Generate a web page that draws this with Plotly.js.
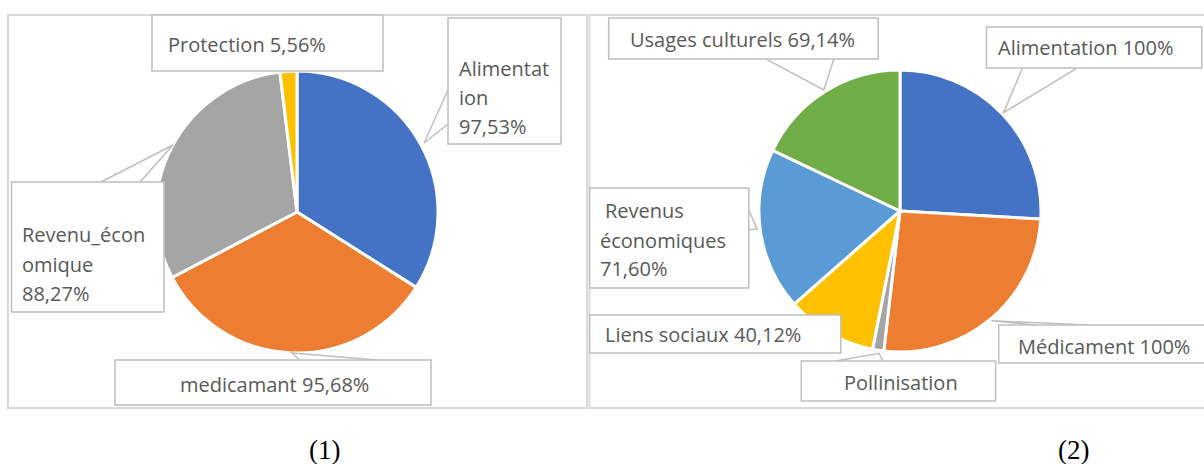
<!DOCTYPE html>
<html>
<head>
<meta charset="utf-8">
<script src="https://cdn.plot.ly/plotly-3.0.1.min.js"></script>
<style>html,body{margin:0;padding:0;background:#fff;}#chart{width:1204px;height:464px;}</style>
</head>
<body>
<div id="chart"></div>
<script>
// ---- Data ----
const chart1Labels = ['Alimentation', 'medicamant', 'Revenu_économique', 'Protection'];
const chart1Values = [97.53, 95.68, 88.27, 5.56];
const chart1Colors = ['#4472C4', '#ED7D31', '#A5A5A5', '#FFC000'];

const chart2Labels = ['Alimentation', 'Médicament', 'Pollinisation', 'Liens sociaux', 'Revenus économiques', 'Usages culturels'];
const chart2Values = [100, 100, 5, 40.12, 71.60, 69.14];
const chart2ShowValue = [true, true, false, true, true, true];
const chart2Colors = ['#4472C4', '#ED7D31', '#A5A5A5', '#FFC000', '#5B9BD5', '#70AD47'];

const captions = ['(1)', '(2)'];

// ---- helpers ----
const W = 1204, H = 464;
const X = p => p / W;
const Y = p => 1 - p / H;
const fmt = v => (Number.isInteger(v) ? String(v) : v.toFixed(2).replace('.', ',')) + '%';

// label layout: box [x0,y0,x1,y1], leader points, text line positions, how to cut the name
const layout1 = [
  {box: [448, 18, 561, 144], leader: [[448, 90], [424, 143], [448, 124]], cut: [9], xs: [457, 457, 457], ys: [68, 97, 126], anchor: 'left'},
  {box: [115, 360, 431, 405], leader: [[300, 360], [292, 353], [377, 360]], cut: null, xs: [274], ys: [384], anchor: 'center'},
  {box: [11.5, 182, 164, 312], leader: [[101, 182], [173, 145], [140, 182]], cut: [11], xs: [20, 20, 20], ys: [234, 264, 293], anchor: 'left'},
  {box: [152, 15, 383, 71], leader: null, cut: null, xs: [166], ys: [44], anchor: 'left'}
];
const layout2 = [
  {box: [986.5, 27, 1201.7, 68], leader: [[1022.4, 68.3], [1003.5, 112.7], [1076.5, 68.3]], cut: null, xs: [996], ys: [48], anchor: 'left'},
  {box: [998.7, 325, 1212, 363], leader: [[1035, 325], [991.6, 320.7], [1088, 325]], cut: null, xs: [1016], ys: [346], anchor: 'left'},
  {box: [801.3, 361, 995.6, 401], leader: [[835.7, 361], [879.1, 353.3], [883, 361]], cut: null, xs: [901], ys: [382], anchor: 'center'},
  {box: [589.7, 315, 840.8, 353], leader: null, cut: null, xs: [603], ys: [334], anchor: 'left'},
  {box: [589.7, 188, 748.8, 288], leader: [[748.8, 210], [757, 229], [748.8, 230]], cut: [7], xs: [603, 598, 598], ys: [210, 240, 268], anchor: 'left'},
  {box: [608.7, 18, 878.3, 59], leader: [[766.6, 59.3], [823.8, 90], [833.7, 59.3]], cut: null, xs: [628], ys: [39], anchor: 'left'}
];

const textFont = {family: 'Open Sans, sans-serif', size: 20, color: '#595959'};
const shapes = [];
const annotations = [];

// outer frames
shapes.push({type: 'rect', xref: 'paper', yref: 'paper', x0: X(8), x1: X(587), y0: Y(408), y1: Y(15), line: {color: '#D9D9D9', width: 2}, layer: 'below'});
shapes.push({type: 'rect', xref: 'paper', yref: 'paper', x0: X(589.5), x1: X(1210), y0: Y(408), y1: Y(15), line: {color: '#D9D9D9', width: 2}, layer: 'below'});

function addLabels(labels, values, showVal, lay) {
  labels.forEach((name, i) => {
    const L = lay[i];
    const val = showVal[i] ? fmt(values[i]) : null;
    let lines;
    if (L.cut) {
      const c = L.cut[0];
      lines = [name.slice(0, c).trim(), name.slice(c).trim()];
      if (val) lines.push(val);
    } else {
      lines = [val ? name + ' ' + val : name];
    }
    if (L.leader) {
      const p = L.leader.map((pt, k) => (k === 0 ? 'M ' : 'L ') + X(pt[0]) + ' ' + Y(pt[1])).join(' ');
      shapes.push({type: 'path', xref: 'paper', yref: 'paper', path: p, line: {color: '#BFBFBF', width: 1.5}});
    }
    const b = L.box;
    shapes.push({type: 'rect', xref: 'paper', yref: 'paper', x0: X(b[0]), x1: X(b[2]), y0: Y(b[3]), y1: Y(b[1]), fillcolor: '#FFFFFF', line: {color: '#BFBFBF', width: 1.5}});
    lines.forEach((t, k) => {
      annotations.push({xref: 'paper', yref: 'paper', x: X(L.xs[k]), y: Y(L.ys[k]), xanchor: L.anchor, yanchor: 'middle', text: t, showarrow: false, font: textFont});
    });
  });
}
addLabels(chart1Labels, chart1Values, chart1Labels.map(() => true), layout1);
addLabels(chart2Labels, chart2Values, chart2ShowValue, layout2);

const captionPos = [[324, 450], [1073, 450]];
captions.forEach((c, i) => {
  annotations.push({xref: 'paper', yref: 'paper', x: X(captionPos[i][0]), y: Y(captionPos[i][1]), xanchor: 'center', yanchor: 'middle', text: c, showarrow: false,
    font: {family: 'Liberation Serif, Times New Roman, serif', size: 27, color: '#000000'}});
});

const traces = [
  {type: 'pie', labels: chart1Labels, values: chart1Values, sort: false, direction: 'clockwise', rotation: 0,
   marker: {colors: chart1Colors, line: {color: '#FFFFFF', width: 3}}, textinfo: 'none', hoverinfo: 'label+value',
   domain: {x: [X(156), X(438)], y: [Y(353), Y(71)]}},
  {type: 'pie', labels: chart2Labels, values: chart2Values, sort: false, direction: 'clockwise', rotation: 0,
   marker: {colors: chart2Colors, line: {color: '#FFFFFF', width: 3}}, textinfo: 'none', hoverinfo: 'label+value',
   domain: {x: [X(759), X(1041)], y: [Y(352), Y(70)]}}
];

Plotly.newPlot('chart', traces, {
  width: W, height: H, margin: {l: 0, r: 0, t: 0, b: 0},
  paper_bgcolor: '#FFFFFF', showlegend: false,
  shapes: shapes, annotations: annotations
}, {displayModeBar: false, staticPlot: true});
</script>
</body>
</html>
